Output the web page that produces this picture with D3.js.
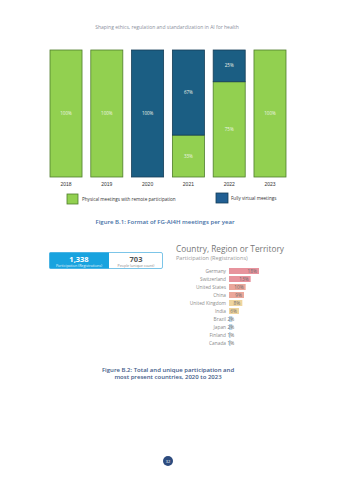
<!DOCTYPE html>
<html>
<head>
<meta charset="utf-8">
<script src="https://cdn.jsdelivr.net/npm/d3@7"></script>
<style>
  body { margin: 0; background: #fff; }
  svg { display: block; font-family: "Open Sans", "Noto Sans", sans-serif; }
</style>
</head>
<body>
<svg id="page" width="339" height="480"></svg>
<script>
// meeting format per year (share of meetings, %)
let years = ['2018', '2019', '2020', '2021', '2022', '2023'];
let physical = [100, 100, 0, 33, 75, 100];
let virtual = [0, 0, 100, 67, 25, 0];

// participation summary
let kpiValues = ['1,338', '703'];
let kpiLabels = ['Participation (Registrations)', 'People (unique count)'];

// top countries
let countries = ['Germany', 'Switzerland', 'United States', 'China', 'United Kingdom', 'India', 'Brazil', 'Japan', 'Finland', 'Canada'];
let shares = [18, 13, 10, 9, 8, 6, 2, 2, 1, 1];
let shareColors = ['#e7939d', '#e7939d', '#eba79b', '#eba79b', '#efd59e', '#efd59e', '#bcd9ec', '#bcd9ec', '#bcd9ec', '#bcd9ec'];

let svg = d3.select('#page');

svg.append('text')
   .attr('x', 167).attr('y', 29)
   .attr('text-anchor', 'middle')
   .style('font-size', '5px')
   .attr('fill', '#8a8f9c')
   .text('Shaping ethics, regulation and standardization in AI for health');

// ---- Figure B.1 stacked bars
let green = '#92d050', blue = '#1b5e83';
let xScale = d3.scaleBand().domain(years).range([50, 286]).paddingInner(0.215).paddingOuter(0);
let yScale = d3.scaleLinear().domain([0, 100]).range([177, 50]);

let stackData = years.map((y, i) => ({year: y, physical: physical[i], virtual: virtual[i]}));
let series = d3.stack().keys(['physical', 'virtual'])(stackData);

let groups = svg.selectAll('g.series')
   .data(series)
   .enter()
   .append('g')
   .attr('class', 'series');

groups.selectAll('rect')
   .data(d => d.map(v => Object.assign(v, {key: d.key})))
   .enter()
   .filter(d => d[1] - d[0] > 0)
   .append('rect')
   .attr('x', d => xScale(d.data.year))
   .attr('y', d => yScale(d[1]))
   .attr('width', xScale.bandwidth())
   .attr('height', d => yScale(d[0]) - yScale(d[1]))
   .attr('fill', d => d.key == 'physical' ? green : blue)
   .attr('stroke', d => d.key == 'physical' ? '#4f7d2c' : '#153d57')
   .attr('stroke-width', 0.8);

groups.selectAll('text')
   .data(d => d.filter(v => v[1] - v[0] > 0))
   .enter()
   .append('text')
   .attr('x', d => xScale(d.data.year) + xScale.bandwidth() / 2)
   .attr('y', d => (yScale(d[0]) + yScale(d[1])) / 2 + 1.5)
   .attr('text-anchor', 'middle')
   .style('font-size', '4.5px')
   .attr('fill', '#eef4e6')
   .text(d => (d[1] - d[0]) + '%');

let xAxis = svg.append('g')
   .attr('transform', 'translate(0,177)')
   .call(d3.axisBottom(xScale).tickSize(0).tickPadding(5));
xAxis.select('.domain').remove();
xAxis.selectAll('text').style('font-size', '5px').attr('fill', '#333');

// legend
let legend = svg.append('g');
legend.append('rect').attr('x', 67).attr('y', 194).attr('width', 11).attr('height', 10)
   .attr('fill', green).attr('stroke', '#4f7d2c').attr('stroke-width', 0.8);
legend.append('text').attr('x', 82).attr('y', 201).style('font-size', '4.6px').attr('fill', '#333')
   .text('Physical meetings with remote participation');
legend.append('rect').attr('x', 216).attr('y', 193).attr('width', 12).attr('height', 10)
   .attr('fill', '#215f93').attr('stroke', '#153d57').attr('stroke-width', 0.8);
legend.append('text').attr('x', 231).attr('y', 200).style('font-size', '4.6px').attr('fill', '#333')
   .text('Fully virtual meetings');

svg.append('text')
   .attr('x', 165).attr('y', 224)
   .attr('text-anchor', 'middle')
   .style('font-size', '6px')
   .style('font-weight', '600')
   .attr('fill', '#4570a6')
   .text('Figure B.1: Format of FG-AI4H meetings per year');

// ---- Figure B.2 KPI box
let kpi = svg.append('g');
kpi.append('rect').attr('x', 49.5).attr('y', 252.5).attr('width', 113).attr('height', 16)
   .attr('rx', 1.5).attr('fill', '#fff').attr('stroke', '#5bb6e2').attr('stroke-width', 0.8);
kpi.append('rect').attr('x', 49.5).attr('y', 252.5).attr('width', 59.5).attr('height', 16)
   .attr('fill', '#18a3df');
kpi.selectAll('text.val')
   .data(kpiValues)
   .enter()
   .append('text')
   .attr('class', 'val')
   .attr('x', (d, i) => i == 0 ? 79 : 136)
   .attr('y', 261.5)
   .attr('text-anchor', 'middle')
   .style('font-size', '7.5px')
   .style('font-weight', i => 'bold')
   .attr('fill', (d, i) => i == 0 ? '#fff' : '#555')
   .text(d => d);
kpi.selectAll('text.lab')
   .data(kpiLabels)
   .enter()
   .append('text')
   .attr('class', 'lab')
   .attr('x', (d, i) => i == 0 ? 79 : 136)
   .attr('y', 266.5)
   .attr('text-anchor', 'middle')
   .style('font-size', '3.6px')
   .attr('fill', (d, i) => i == 0 ? '#e6f5fc' : '#888')
   .text(d => d);

// country bars
svg.append('text').attr('x', 176).attr('y', 252).style('font-size', '8.3px')
   .attr('fill', '#777').text('Country, Region or Territory');
svg.append('text').attr('x', 176).attr('y', 259.5).style('font-size', '5.6px')
   .attr('fill', '#999').text('Participation (Registrations)');

let cScale = d3.scaleBand().domain(countries).range([266, 348]).padding(0.25);
let wScale = d3.scaleLinear().domain([0, 18]).range([0, 30]);
let x0 = 229;

svg.selectAll('rect.country')
   .data(countries)
   .enter()
   .append('rect')
   .attr('class', 'country')
   .attr('x', x0)
   .attr('y', d => cScale(d))
   .attr('width', (d, i) => wScale(shares[i]))
   .attr('height', cScale.bandwidth())
   .attr('fill', (d, i) => shareColors[i]);

svg.selectAll('text.cname')
   .data(countries)
   .enter()
   .append('text')
   .attr('class', 'cname')
   .attr('x', x0 - 3)
   .attr('y', d => cScale(d) + cScale.bandwidth() / 2 + 1.7)
   .attr('text-anchor', 'end')
   .style('font-size', '4.8px')
   .attr('fill', '#8a8a8a')
   .text(d => d);

svg.selectAll('text.cval')
   .data(countries)
   .enter()
   .append('text')
   .attr('class', 'cval')
   .attr('x', (d, i) => {
       let lbl = shares[i] + '%';
       let tw = lbl.length * 2.6;
       return Math.max(x0 + wScale(shares[i]) - 2, x0 + tw);
   })
   .attr('y', d => cScale(d) + cScale.bandwidth() / 2 + 1.7)
   .attr('text-anchor', 'end')
   .style('font-size', '4.8px')
   .attr('fill', '#6d6d6d')
   .text((d, i) => shares[i] + '%');

// caption B.2
let cap = svg.append('text')
   .attr('text-anchor', 'middle')
   .style('font-size', '6px')
   .style('font-weight', '600')
   .attr('fill', '#3e5a88');
cap.append('tspan').attr('x', 168).attr('y', 372).text('Figure B.2: Total and unique participation and');
cap.append('tspan').attr('x', 168).attr('y', 379).text('most present countries, 2020 to 2023');

// page number
svg.append('circle').attr('cx', 168).attr('cy', 461).attr('r', 5).attr('fill', '#2d4b7e');
svg.append('text').attr('x', 168).attr('y', 462.5).attr('text-anchor', 'middle')
   .style('font-size', '4px').attr('fill', '#fff').text('32');
</script>
</body>
</html>
